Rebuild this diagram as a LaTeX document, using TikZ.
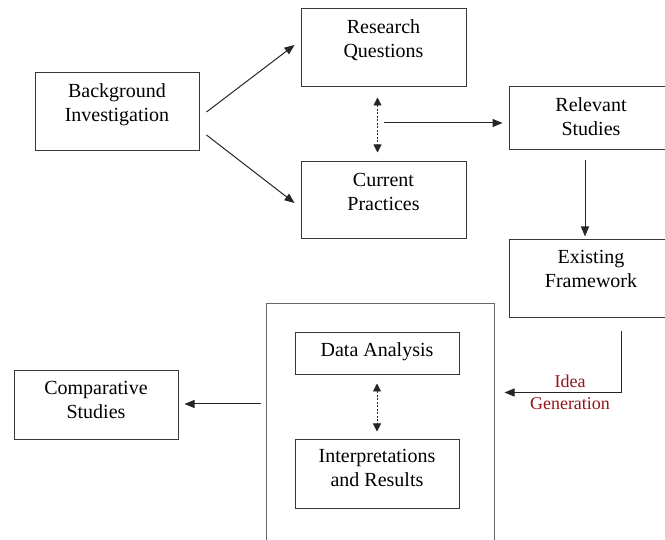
\documentclass[tikz,border=0pt]{standalone}
\usepackage{fontspec}
\setmainfont{Liberation Serif}
\usetikzlibrary{arrows.meta,calc}
\newcommand{\tx}[2]{\raisebox{#1}[\height][\depth]{\begin{tabular}{@{}c@{}}#2\end{tabular}}}
\definecolor{idred}{RGB}{150,20,25}
\begin{document}
\begin{tikzpicture}[x=1pt,y=-1pt,
  box/.style={draw=black!78, line width=1pt, inner sep=0pt, font=\fontsize{20}{24}\selectfont},
  arr/.style={draw=black!85, line width=1pt, -{Triangle[length=10pt,width=8pt]}},
  dots/.style={draw=black!85, line width=0.9pt, dash pattern=on 2pt off 1.5pt, {Triangle[length=8pt,width=8pt]}-{Triangle[length=8pt,width=8pt]}},
  lab/.style={text=idred, font=\fontsize{18}{22}\selectfont, inner sep=0pt}]
\useasboundingbox (0,0) rectangle (665,540);
\fill[white] (0,0) rectangle (665,540);
% boxes
\node[box, minimum width=164pt, minimum height=78pt] (bg) at (117,112) {\tx{7pt}{Background\\Investigation}};
\node[box, minimum width=165pt, minimum height=78pt] (rq) at (383.5,48) {\tx{7pt}{Research\\Questions}};
\node[box, minimum width=165pt, minimum height=77pt] (cp) at (383.5,200.5) {\tx{7pt}{Current\\Practices}};
\node[box, minimum width=164pt, minimum height=63pt] (rs) at (591,118.5) {\tx{0pt}{Relevant\\Studies}};
\node[box, minimum width=164pt, minimum height=78pt] (ef) at (591,279) {\tx{8pt}{Existing\\Framework}};
\node[draw=black!60, line width=1pt, minimum width=228pt, minimum height=256pt] (big) at (380,432) {};
\node[box, minimum width=164pt, minimum height=42pt] (da) at (377,354) {\tx{2pt}{Data Analysis}};
\node[box, minimum width=164pt, minimum height=68pt] (ir) at (377,474) {\tx{4pt}{Interpretations\\and Results}};
\node[box, minimum width=164pt, minimum height=69pt] (cs) at (96,405.5) {\tx{3.5pt}{Comparative\\Studies}};
% labels
\node[lab] (idea) at (570,381) {Idea};
\node[lab] (gen) at (570,404) {Generation};
% connectors
\coordinate (hub) at (384,123);
\draw[arr] ($(bg.east)+(7,0)$) -- ($(rq.west)+(-6,-3)$);
\draw[arr] ($(bg.east)+(7,23)$) -- ($(cp.west)+(-6,2.5)$);
\draw[dots] ($(rq.south)+(-6,10)$) -- ($(cp.north)+(-6,-9)$);
\draw[arr] (hub) -- ($(hub -| rs.west)+(-6,0)$);
\draw[arr] ($(rs.south)+(-6,10)$) -- ($(ef.north)+(-6,-3)$);
\draw[arr] ($(ef.south)+(30,13)$) |- ($(big.north east)+(10,89)$);
\draw[arr] ($(big.west)+(-5,-28)$) -- ($(cs.east)+(6,-1.5)$);
\draw[dots] ($(da.south)+(0,8)$) -- ($(ir.north)+(0,-8)$);
\end{tikzpicture}
\end{document}
